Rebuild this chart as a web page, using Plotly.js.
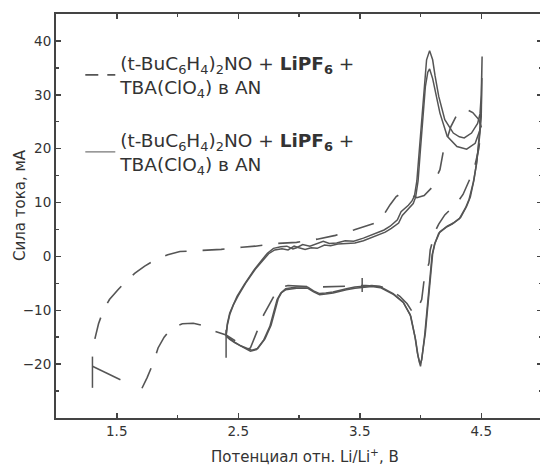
<!DOCTYPE html>
<html>
<head>
<meta charset="utf-8">
<script src="https://cdn.plot.ly/plotly-3.0.1.min.js"></script>
<style>
html,body{margin:0;padding:0;overflow:hidden;background:#fff;width:540px;height:465px;}
#chart{width:543px;height:465px;}
</style>
</head>
<body>
<div id="chart"></div>
<script>
// ---- data ----
const legendLabel = "(t-BuC<sub>6</sub>H<sub>4</sub>)<sub>2</sub>NO + <b>LiPF<sub>6</sub></b> +<br>TBA(ClO<sub>4</sub>) в AN";
const xTitle = "Потенциал отн. Li/Li<sup>+</sup>, В";
const yTitle = "Сила тока, мА";

const dashX = [1.32,1.35,1.39,1.44,1.51,1.58,1.65,1.73,1.82,1.92,2.02,2.19,2.36,2.53,2.64,2.82,2.98,3.15,3.30,3.45,3.63,3.70,3.75,3.80,3.85,3.92,3.97,4.03,4.09,4.16,4.19,4.25,4.30,4.34,4.38,4.43,4.48,4.50,
  4.48,4.44,4.40,4.35,4.30,4.20,4.15,4.12,4.08,4.07,4.03,4.01,3.96,3.93,3.89,3.83,3.75,3.67,3.55,3.40,3.25,3.15,2.91,2.85,2.80,2.71,2.65,2.60,2.55,2.47,2.40,2.31,2.22,2.13,2.04,1.95,1.89,1.84,1.80,1.75,1.69];
const dashY = [-15.3,-12.5,-10.0,-8.0,-6.2,-4.5,-3.1,-1.8,-0.6,0.3,0.9,1.1,1.3,1.7,1.9,2.4,2.6,3.2,3.9,4.9,6.2,7.8,9.6,11.1,11.8,11.4,10.9,11.3,12.7,16.1,19.8,24.1,26.3,27.1,27.3,26.7,25.4,24.0,
  20.0,16.1,13.9,11.5,9.9,7.7,6.0,4.6,1.2,-1.2,-4.3,-8.0,-10.5,-10.2,-8.8,-7.4,-6.2,-5.6,-5.4,-5.5,-5.5,-5.7,-5.4,-5.8,-7.1,-10.8,-14.2,-17.0,-17.4,-15.6,-14.6,-13.9,-12.9,-12.4,-12.5,-13.3,-15.0,-17.0,-19.8,-22.5,-25.3];

const cycle1X = [2.40,2.41,2.43,2.46,2.49,2.55,2.63,2.69,2.74,2.79,2.85,2.90,2.95,2.98,3.03,3.09,3.14,3.20,3.25,3.31,3.38,3.45,3.53,3.58,3.64,3.70,3.75,3.81,3.84,3.87,3.90,3.93,3.95,3.97,3.99,4.01,4.03,4.05,4.075,4.10,4.12,4.15,4.20,4.27,4.32,4.36,4.42,4.47,4.49,4.50,4.507,
  4.50,4.49,4.475,4.465,4.44,4.41,4.38,4.33,4.27,4.22,4.16,4.12,4.10,4.09,4.07,4.04,4.01,4.00,3.98,3.96,3.92,3.86,3.78,3.67,3.60,3.53,3.46,3.39,3.33,3.28,3.22,3.17,3.12,3.07,2.98,2.89,2.85,2.82,2.79,2.76,2.71,2.65,2.60,2.56,2.52,2.47,2.43,2.40];
const cycle1Y = [-14.6,-12.5,-10.5,-8.8,-7.4,-5.2,-2.5,-0.8,0.6,1.5,1.8,1.9,1.4,1.6,2.2,1.9,2.3,2.8,2.4,2.5,2.9,2.8,3.4,3.8,4.3,4.9,5.6,6.8,8.3,8.9,9.5,10.3,11.2,14.0,20.0,26.0,32.0,36.5,38.2,36.5,33.5,29.7,25.4,22.9,22.2,22.0,22.9,24.7,26.5,30.0,37.1,
  28.0,24.0,20.0,17.9,14.2,11.0,9.3,7.2,6.2,5.6,4.6,2.5,0.5,-1.9,-8.0,-14.2,-19.0,-20.4,-18.5,-15.5,-11.1,-8.6,-7.1,-5.8,-5.6,-5.7,-5.9,-6.2,-6.6,-6.8,-7.0,-7.1,-6.6,-5.9,-5.9,-6.2,-6.8,-8.0,-10.5,-13.0,-15.5,-17.3,-17.6,-17.1,-16.7,-16.0,-15.4,-14.8];

const cycle2X = [2.40,2.41,2.43,2.46,2.50,2.56,2.64,2.70,2.75,2.80,2.86,2.91,2.96,3.00,3.05,3.10,3.15,3.21,3.26,3.32,3.39,3.46,3.53,3.59,3.65,3.71,3.76,3.82,3.85,3.88,3.91,3.94,3.96,3.98,4.00,4.02,4.04,4.06,4.075,4.10,4.13,4.16,4.22,4.30,4.38,4.45,4.49,4.50,4.505,
  4.50,4.49,4.475,4.46,4.435,4.40,4.37,4.32,4.26,4.21,4.15,4.115,4.095,4.085,4.065,4.035,4.01,3.995,3.975,3.955,3.915,3.855,3.775,3.665,3.60,3.53,3.46,3.39,3.33,3.28,3.22,3.17,3.12,3.07,2.98,2.89,2.86,2.83,2.80,2.77,2.72,2.66,2.61,2.56,2.52,2.47,2.43,2.40];
const cycle2Y = [-14.8,-12.8,-10.8,-9.0,-7.3,-5.0,-2.4,-0.7,0.5,1.2,1.4,1.2,1.9,1.6,1.3,1.6,1.5,2.1,2.0,2.3,2.4,2.5,2.9,3.4,3.9,4.5,5.2,6.2,7.6,8.3,9.0,9.8,11.0,14.0,20.0,26.0,31.5,34.2,34.8,33.0,29.5,26.6,22.3,20.4,19.9,21.0,23.5,27.0,33.1,
  26.0,23.0,19.5,17.0,13.8,10.6,9.0,7.0,6.0,5.4,4.3,2.2,0.2,-2.2,-8.3,-14.5,-19.2,-20.0,-18.0,-15.0,-10.8,-8.4,-6.9,-5.6,-5.4,-5.5,-5.7,-6.0,-6.4,-6.6,-6.8,-6.9,-6.4,-5.7,-5.7,-6.0,-6.6,-7.8,-10.3,-12.8,-15.3,-17.1,-17.4,-17.0,-16.6,-15.9,-15.3,-14.7];

const startMarkX = [1.30,1.30,null,1.30,1.53,null,2.40,2.40,null,3.52,3.52];
const startMarkY = [-18.6,-24.4,null,-20.4,-22.9,null,-13.6,-18.8,null,-4.0,-6.6];

const xTickVals = [1.5,2.5,3.5,4.5];
const xMinorVals = [2.0,3.0,4.0];
const yTickVals = [-20,-10,0,10,20,30,40];
const yMinorVals = [-25,-15,-5,5,15,25,35];

// ---- styling ----
const lineCol = "#555";
const axCol = "#444";
const txtCol = "#333";
const fam = "DejaVu Sans, sans-serif";

const traces = [
  {x: dashX, y: dashY, mode: "lines", line: {color: lineCol, width: 1.6, dash: "22px,16px"}, showlegend: false, hoverinfo: "skip"},
  {x: cycle1X, y: cycle1Y, mode: "lines", line: {color: lineCol, width: 1.5}, showlegend: false, hoverinfo: "skip"},
  {x: cycle2X, y: cycle2Y, mode: "lines", line: {color: lineCol, width: 1.5}, showlegend: false, hoverinfo: "skip"},
  {x: startMarkX, y: startMarkY, mode: "lines", line: {color: lineCol, width: 1.5}, showlegend: false, hoverinfo: "skip"},
  {x: [null], y: [null], mode: "lines", name: legendLabel, legendgroup: "a", line: {color: lineCol, width: 1.6, dash: "13px,9px"}},
  {x: [null], y: [null], mode: "lines", name: legendLabel, legendgroup: "b", line: {color: "#777", width: 1.2}}
];

const axisCommon = {
  showline: true, linecolor: axCol, linewidth: 2, mirror: "ticks",
  ticks: "inside", ticklen: 5, tickwidth: 1.5, tickcolor: axCol,
  showgrid: false, zeroline: false,
  tickfont: {family: fam, size: 13.5, color: txtCol},
};

const layout = {
  width: 543, height: 465,
  margin: {l: 56, r: 1, t: 14, b: 47},
  paper_bgcolor: "#fff", plot_bgcolor: "#fff",
  font: {family: fam, color: txtCol},
  showlegend: true,
  legend: {
    x: 0.05, y: 0.925, xanchor: "left", yanchor: "top",
    bgcolor: "rgba(0,0,0,0)", borderwidth: 0,
    font: {family: fam, size: 18.5, color: txtCol},
    traceorder: "grouped", tracegroupgap: 26, itemwidth: 30
  },
  xaxis: Object.assign({}, axisCommon, {
    range: [1, 5], tickmode: "array", tickvals: xTickVals,
    minor: {tickmode: "array", tickvals: xMinorVals, ticks: "inside", ticklen: 3, tickwidth: 1.5, tickcolor: axCol}
  }),
  yaxis: Object.assign({}, axisCommon, {
    range: [-30, 45], tickmode: "array", tickvals: yTickVals,
    minor: {tickmode: "array", tickvals: yMinorVals, ticks: "inside", ticklen: 3, tickwidth: 1.5, tickcolor: axCol}
  }),
  annotations: [
    {text: xTitle, xref: "paper", yref: "paper", x: (305 - 56) / 486, y: (418 - 456) / 404,
     xanchor: "center", yanchor: "middle", showarrow: false, font: {family: fam, size: 15, color: txtCol}},
    {text: yTitle, xref: "paper", yref: "paper", x: (20 - 56) / 486, y: (418 - 205) / 404,
     xanchor: "center", yanchor: "middle", textangle: -90, showarrow: false, font: {family: fam, size: 15, color: txtCol}}
  ]
};

Plotly.newPlot("chart", traces, layout, {staticPlot: true, displayModeBar: false});
</script>
</body>
</html>
